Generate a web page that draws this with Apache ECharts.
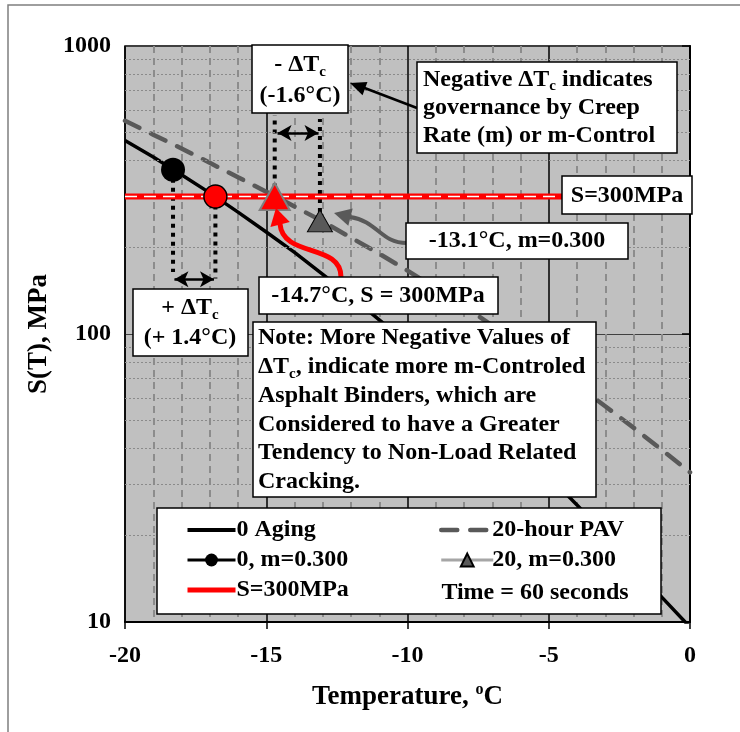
<!DOCTYPE html>
<html>
<head>
<meta charset="utf-8">
<title>S(T) vs Temperature</title>
<script src="https://cdn.jsdelivr.net/npm/echarts@6/dist/echarts.min.js"></script>
</head>
<body style="margin:0">
<div id="main" style="width:740px;height:732px;"></div>
<script>
// values
var tempC  = [-20, -19, -18, -17, -16, -15, -14, -13, -12, -11, -10, -9, -8, -7, -6, -5, -4, -3, -2, -1, 0];
var aging0 = [470, 412, 357, 309, 265, 226, 192, 161, 135, 112, 92.6, 76, 61.8, 50, 40.3, 32.1, 25.5, 20.1, 15.7, 12.2, 9.6];
var pav20  = [550, 492, 441, 393, 350, 312, 277, 246, 216, 190, 166, 144, 125, 107, 91.7, 78.2, 66.4, 56.1, 47.3, 39.6, 33.1];
var aging0M = [[-18.3, 372]];
var aging0S = [[-16.8, 300]];
var pav20S  = [[-14.7, 300]];
var pav20M  = [[-13.1, 247]];
var sLimit  = [[-20, 300], [0, 300]];
var yMinor  = [20, 30, 40, 50, 60, 70, 80, 90, 200, 300, 400, 500, 600, 700, 800, 900];

var FONT = '"Liberation Serif", "Times New Roman", serif';

function zip(xs, ys) {
    return xs.map(function (x, i) { return [x, ys[i]]; });
}

function dotted(pts) {
    return {
        type: 'line', data: pts, symbol: 'none', silent: true, z: 3,
        lineStyle: { color: '#000', width: 4, type: [4, 5] }
    };
}

function box(x, y, w, h) {
    return { type: 'rect', z: 100, shape: { x: x, y: y, width: w, height: h },
        style: { fill: '#fff', stroke: '#000', lineWidth: 1.5 } };
}

var rich = {
    s: { fontSize: 15, fontWeight: 'bold', fontFamily: FONT, verticalAlign: 'bottom', lineHeight: 12 }
};

function label(x, y, text, align, lh) {
    return { type: 'text', z: 101, x: x, y: y,
        style: { text: text, fontSize: 24, fontWeight: 'bold', fontFamily: FONT, fill: '#000',
            align: align || 'center', verticalAlign: 'middle', lineHeight: lh || 29, rich: rich } };
}

function head(tx, ty, fx, fy, len, half, color) {
    var dx = tx - fx, dy = ty - fy, d = Math.sqrt(dx * dx + dy * dy);
    dx /= d; dy /= d;
    var bx = tx - dx * len, by = ty - dy * len;
    return { type: 'polygon', z: 102,
        shape: { points: [[tx, ty], [bx - dy * half, by + dx * half], [bx + dy * half, by - dx * half]] },
        style: { fill: color } };
}

// legend entries for plain lines: hide the marker, keep the line
function lineOnly(name, w) {
    return { name: name, itemStyle: { opacity: 0 }, lineStyle: { width: w } };
}

function withMarker(name, w) {
    return { name: name, lineStyle: { width: w } };
}

var myChart = echarts.init(document.getElementById('main'));

var option = {
    backgroundColor: '#fff',
    animation: false,
    grid: { left: 125, right: 50, top: 46, bottom: 110, show: true,
        backgroundColor: '#c0c0c0', borderColor: '#000', borderWidth: 1.5 },
    xAxis: {
        type: 'value', min: -20, max: 0, interval: 5,
        name: 'Temperature, {o|o}C', nameLocation: 'middle', nameGap: 60,
        nameTextStyle: { fontSize: 27, fontWeight: 'bold', fontFamily: FONT, color: '#000',
            rich: { o: { fontSize: 16, fontWeight: 'bold', fontFamily: FONT, verticalAlign: 'top', lineHeight: 30 } } },
        axisLine: { lineStyle: { color: '#000', width: 2 } },
        axisTick: { show: true, length: 7, lineStyle: { color: '#000', width: 1.5 } },
        axisLabel: { fontSize: 24, fontWeight: 'bold', fontFamily: FONT, color: '#000', margin: 22 },
        splitLine: { show: true, lineStyle: { color: '#000', width: 1.5 } },
        minorTick: { show: false, splitNumber: 5 },
        minorSplitLine: { show: true, lineStyle: { color: '#8c8c8c', width: 2, type: [7, 5] } }
    },
    yAxis: {
        type: 'log', logBase: 10, min: 10, max: 1000,
        name: 'S(T), MPa', nameLocation: 'middle', nameGap: 65, nameRotate: 90,
        nameTextStyle: { fontSize: 27, fontWeight: 'bold', fontFamily: FONT, color: '#000' },
        axisLine: { lineStyle: { color: '#000', width: 2 } },
        axisTick: { show: true, length: 8, lineStyle: { color: '#000', width: 1.5 } },
        axisLabel: { fontSize: 24, fontWeight: 'bold', fontFamily: FONT, color: '#000', margin: 14,
            formatter: function (v) { return String(Math.round(v)); } },
        splitLine: { show: true, lineStyle: { color: '#404040', width: 1 } }
    },
    legend: [{
        orient: 'vertical', left: 180, top: 513, z: 110,
        itemWidth: 48, itemHeight: 16, itemGap: 6,
        textStyle: { fontSize: 24, fontWeight: 'bold', fontFamily: FONT, color: '#000', padding: [0, 0, 0, -4] },
        data: [lineOnly('0 Aging', 4), withMarker('0, m=0.300', 3), lineOnly('S=300MPa', 5)]
    }, {
        orient: 'vertical', left: 434, top: 513, z: 110,
        itemWidth: 52, itemHeight: 16, itemGap: 6,
        textStyle: { fontSize: 24, fontWeight: 'bold', fontFamily: FONT, color: '#000', padding: [0, 0, 0, -6] },
        data: [lineOnly('20-hour PAV', 4.5), withMarker('20, m=0.300', 3)]
    }],
    series: [
        {   // minor horizontal grid lines of the log axis
            type: 'line', data: [], silent: true, z: 1,
            markLine: { silent: true, symbol: 'none', label: { show: false },
                lineStyle: { color: '#8a8a8a', width: 1, type: [2, 2] },
                data: yMinor.map(function (v) { return { yAxis: v }; }) }
        },
        {
            name: '0 Aging', type: 'line', data: zip(tempC, aging0), symbol: 'none', z: 4,
            lineStyle: { color: '#000', width: 3.5 }, itemStyle: { color: '#000' }
        },
        {
            name: '20-hour PAV', type: 'line', data: zip(tempC, pav20), symbol: 'none', z: 4,
            lineStyle: { color: '#595959', width: 4.5, type: [16, 13], cap: 'round' }, itemStyle: { color: '#595959' }
        },
        {
            name: 'S=300MPa', type: 'line', data: sLimit, symbol: 'none', z: 5,
            lineStyle: { color: '#ff0000', width: 6 }, itemStyle: { color: '#ff0000' }
        },
        {
            type: 'line', data: sLimit, symbol: 'none', z: 6, silent: true,
            lineStyle: { color: '#fff', width: 1.5, type: [12, 7] }
        },
        dotted([[-18.3, 372], [-18.3, 164]]),
        dotted([[-16.8, 300], [-16.8, 156]]),
        dotted([[-14.7, 300], [-14.7, 575]]),
        dotted([[-13.1, 247], [-13.1, 558]]),
        {
            type: 'line', data: [], silent: true, z: 4,
            markLine: { silent: true, symbol: ['arrow', 'arrow'], symbolSize: [12, 14], label: { show: false },
                lineStyle: { color: '#000', width: 2.5, type: 'solid' },
                data: [
                    [{ coord: [-18.25, 155] }, { coord: [-16.85, 155] }],
                    [{ coord: [-14.6, 499] }, { coord: [-13.15, 499] }]
                ] }
        },
        {
            name: '0, m=0.300', type: 'line', data: aging0M, symbol: 'circle', symbolSize: 24, z: 7,
            lineStyle: { color: '#000', width: 2.5 }, itemStyle: { color: '#000' }
        },
        {
            type: 'line', data: aging0S, symbol: 'circle', symbolSize: 23, z: 7, silent: true,
            itemStyle: { color: '#ff0000', borderColor: '#000', borderWidth: 1.5 }
        },
        {
            type: 'line', data: pav20S, symbol: 'triangle', symbolSize: [30, 27], z: 7, silent: true,
            itemStyle: { color: '#ff0000', borderColor: '#7f7f7f', borderWidth: 2 }
        },
        {
            name: '20, m=0.300', type: 'line', data: pav20M, symbol: 'triangle', symbolSize: [25, 22], z: 7,
            lineStyle: { color: '#a6a6a6', width: 3 }, itemStyle: { color: '#595959', borderColor: '#000', borderWidth: 1 }
        }
    ],
    graphic: [
        { type: 'rect', z: 0, shape: { x: 8, y: 5, width: 800, height: 800 },
            style: { fill: null, stroke: '#7f7f7f', lineWidth: 1.5 } },
        // delta Tc boxes
        box(252, 45, 96, 68),
        label(300, 80, '- ΔT{s|c}\n(-1.6°C)', 'center', 31),
        box(133, 289, 115, 67),
        label(190, 323, '+ ΔT{s|c}\n(+ 1.4°C)', 'center', 30),
        // negative delta Tc note with arrow
        { type: 'line', z: 99, shape: { x1: 417, y1: 108, x2: 362, y2: 87 }, style: { stroke: '#000', lineWidth: 2.5 } },
        head(350, 83, 417, 108, 16, 7, '#000'),
        box(417, 62, 260, 91),
        label(423, 108, 'Negative ΔT{s|c} indicates\ngovernance by Creep\nRate (m) or m-Control', 'left', 28),
        // S=300 tag
        box(562, 176, 130, 38),
        label(627, 196, 'S=300MPa'),
        // -13.1 tag and gray curved arrow
        { type: 'bezierCurve', z: 99, shape: { x1: 407, y1: 243, cpx1: 380, cpy1: 243, cpx2: 378, cpy2: 221, x2: 350, y2: 217 },
            style: { stroke: '#595959', lineWidth: 4, fill: null } },
        head(334, 213, 350, 217, 17, 9, '#595959'),
        box(406, 223, 222, 36),
        label(517, 241, '-13.1°C, m=0.300'),
        // -14.7 tag and red curved arrow
        { type: 'bezierCurve', z: 99, shape: { x1: 341, y1: 277, cpx1: 341, cpy1: 243, cpx2: 283, cpy2: 258, x2: 280, y2: 224 },
            style: { stroke: '#ff0000', lineWidth: 5, fill: null } },
        head(276, 208, 280, 224, 17, 10, '#ff0000'),
        box(259, 277, 239, 37),
        label(378, 296, '-14.7°C, S = 300MPa'),
        // note box
        box(253, 322, 343, 175),
        label(258, 410, 'Note: More Negative Values of\nΔT{s|c}, indicate more m-Controled\nAsphalt Binders, which are\nConsidered to have a Greater\nTendency to Non-Load Related\nCracking.', 'left', 28.7),
        // legend frame
        box(157, 508, 504, 106),
        label(535, 593, 'Time = 60 seconds')
    ]
};

myChart.setOption(option);
</script>
</body>
</html>
